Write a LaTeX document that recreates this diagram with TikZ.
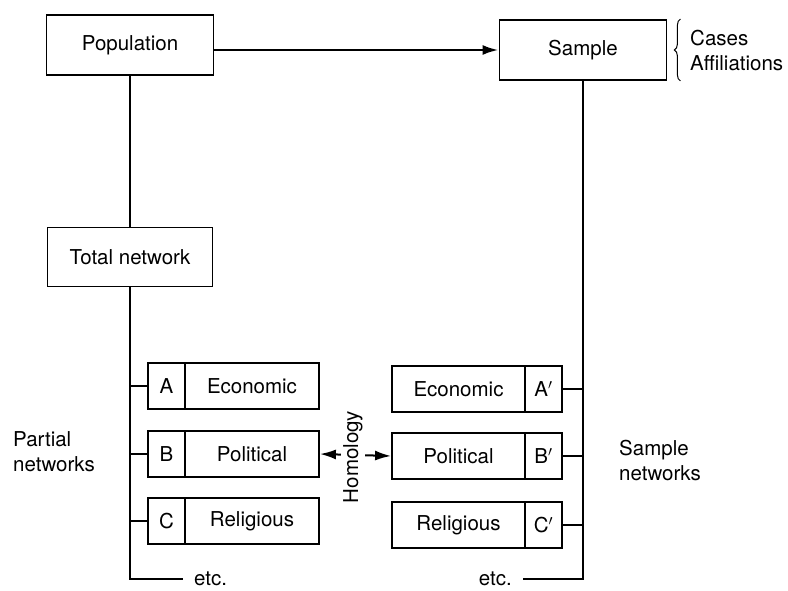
\documentclass[tikz,border=0pt]{standalone}
\usepackage{fontspec}
\setmainfont{TeX Gyre Heros}
\usetikzlibrary{arrows.meta,decorations.pathreplacing}
\begin{document}
\begin{tikzpicture}[x=1pt,y=-1pt,
	every node/.style={inner sep=0pt,font=\fontsize{20.5}{25}\selectfont},
	box/.style={draw,line width=1.8pt,minimum height=46pt},
	link/.style={line width=2.6pt},
	tip/.tip={Latex[length=16pt,width=10pt]},
	etcnode/.style={inner xsep=11pt}]
	\useasboundingbox (0,0) rectangle (788,591);
	\node [box,minimum width=167pt,minimum height=60pt] (pop) at (130,45) {Population};
	\node [box,minimum width=167pt,minimum height=60pt] (sample) at (583,50) {Sample};
	\node [box,minimum width=165pt,minimum height=59pt] (total) at (130,257) {Total network};
	\node [box,minimum width=37pt] (a) at (166.5,386) {A};
	\node [box,minimum width=134pt] (econ) at (252,386) {Economic};
	\node [box,minimum width=37pt] (b) at (166.5,454) {B};
	\node [box,minimum width=134pt] (pol) at (252,454) {Political};
	\node [box,minimum width=37pt] (c) at (166.5,521) {C};
	\node [box,minimum width=134pt] (rel) at (252,521) {Religious};
	\node [box,minimum width=133pt] (econs) at (458.5,389) {Economic};
	\node [box,minimum width=37pt] (as) at (543.5,389) {A$'$};
	\node [box,minimum width=133pt] (pols) at (458.5,456) {Political};
	\node [box,minimum width=37pt] (bs) at (543.5,456) {B$'$};
	\node [box,minimum width=133pt] (rels) at (458.5,525) {Religious};
	\node [box,minimum width=37pt] (cs) at (543.5,525) {C$'$};
	\node [etcnode,anchor=west] (etcl) at (183,579) {etc.};
	\node [etcnode,anchor=east] (etcr) at (523,579) {etc.};
	\node [align=left,anchor=west] (partial) at (13,452) {Partial\\networks};
	\node [align=left,anchor=west] (samplenet) at (619,460) {Sample\\networks};
	\node [align=left,anchor=west] (cases) at (690,50) {Cases\\Affiliations};
	\draw [link,-tip] (pop.east |- sample.west) -- (sample.west);
	\draw [link] (pop.south) -- (total.north);
	\draw [link] (total.south) |- (etcl.west);
	\draw [link] (a.west) -- (a.west -| total.south);
	\draw [link] (b.west) -- (b.west -| total.south);
	\draw [link] (c.west) -- (c.west -| total.south);
	\draw [link] (sample.south) |- (etcr.east);
	\draw [link] (as.east) -- (as.east -| sample.south);
	\draw [link] (bs.east) -- (bs.east -| sample.south);
	\draw [link] (cs.east) -- (cs.east -| sample.south);
	\draw [line width=2pt,tip-tip] (pol.east) -- (pols.west);
	\node [rotate=90,fill=white,inner sep=2pt] (hom) at (353,457) {Homology};
	\draw [line width=1pt,decorate,decoration={brace,amplitude=6pt}] ([xshift=13pt]sample.south east) -- ([xshift=13pt]sample.north east);
\end{tikzpicture}
\end{document}
